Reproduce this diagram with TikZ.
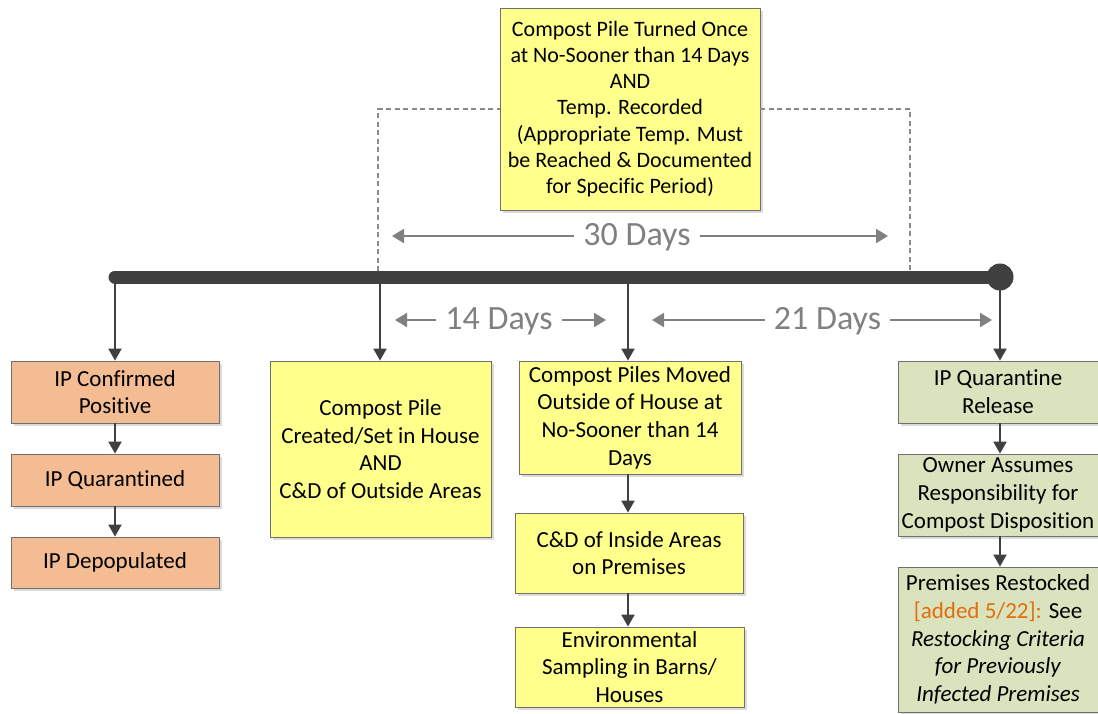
\documentclass[tikz,border=0pt]{standalone}
\usepackage{fontspec}
\setmainfont{Carlito}[Ligatures={NoCommon,NoDiscretionary,NoRare}]
\usetikzlibrary{arrows.meta,shadows}
\definecolor{barc}{HTML}{404040}
\definecolor{dimc}{HTML}{808080}
\definecolor{dashc}{HTML}{8A8A8A}
\definecolor{boxline}{HTML}{707070}
\definecolor{orangef}{HTML}{F4BC92}
\definecolor{yellowf}{HTML}{FFFF8C}
\definecolor{greenf}{HTML}{D9E4BF}
\definecolor{addc}{HTML}{E46C0A}
\begin{document}
\begin{tikzpicture}[x=1pt,y=-1pt,
  box/.style={draw=boxline, line width=0.8pt, align=center, inner sep=0pt,
    font=\fontsize{23}{27.7}\selectfont,
    drop shadow={shadow xshift=3pt,shadow yshift=-3pt,fill=black!14,opacity=1}},
  flow/.style={draw=barc, line width=2pt, -{Triangle[length=12pt,width=13pt]}},
  dimarrow/.style={draw=dimc, line width=2pt, -{Triangle[length=12pt,width=14pt]}},
  dimtext/.style={text=dimc, font=\fontsize{34}{40}\selectfont, inner xsep=9pt, inner ysep=0pt},
  dashline/.style={draw=dashc, line width=2.5pt, dash pattern=on 5pt off 3.5pt}]
\useasboundingbox (0,0) rectangle (1098,713);
\clip (0,0) rectangle (1098,713);

% timeline coordinates
\coordinate (t1) at (115,277);
\coordinate (t2) at (380,277);
\coordinate (t3) at (628,277);
\coordinate (t4) at (1000,277);
\coordinate (dl) at (378,271);
\coordinate (dr) at (910,271);

% top box
\node[box, fill=yellowf, minimum width=260pt, minimum height=202pt,
  font=\fontsize{22}{26.2}\selectfont] (top) at (630,109)
  {Compost Pile Turned Once\\at No-Sooner than 14 Days\\AND\\Temp. Recorded\\(Appropriate Temp. Must\\be Reached \& Documented\\for Specific Period)};

% dashed bracket
\draw[dashline] (dl) |- (top.west);
\draw[dashline] (top.east) -| (dr);

% main bar
\draw[barc, line width=13pt, line cap=round] (t1) -- (t4);
\fill[barc] (t4) circle (13.5pt);

% boxes
\node[box, fill=orangef, minimum width=208pt, minimum height=62pt] (ipc) at (115,392) {IP Confirmed\\Positive};
\node[box, fill=orangef, minimum width=208pt, minimum height=52pt] (ipq) at (115,480) {IP Quarantined};
\node[box, fill=orangef, minimum width=208pt, minimum height=51pt] (ipd) at (115,562.5) {IP Depopulated};

\node[box, fill=yellowf, minimum width=221pt, minimum height=176pt] (cpc) at (380.5,449)
  {Compost Pile\\Created/Set in House\\AND\\C\&D of Outside Areas};

\node[box, fill=yellowf, minimum width=222pt, minimum height=113pt] (cpm) at (630,417.5)
  {Compost Piles Moved\\Outside of House at\\No-Sooner than 14\\Days};
\node[box, fill=yellowf, minimum width=228pt, minimum height=80pt] (cdi) at (629,553)
  {C\&D of Inside Areas\\on Premises};
\node[box, fill=yellowf, minimum width=229pt, minimum height=80pt] (env) at (629.5,667)
  {Environmental\\Sampling in Barns/\\Houses};

\node[box, fill=greenf, minimum width=200pt, minimum height=62pt] (iqr) at (998,392)
  {IP Quarantine\\Release};
\node[box, fill=greenf, minimum width=200pt, minimum height=82pt] (own) at (998,495)
  {Owner Assumes\\Responsibility for\\Compost Disposition};
\node[box, fill=greenf, minimum width=200pt, minimum height=145pt] (res) at (998,639.5)
  {Premises Restocked\\{\color{addc}[added 5/22]:} See\\\textit{Restocking Criteria}\\\textit{for Previously}\\\textit{Infected Premises}};

% arrows from timeline
\draw[flow] (t1) -- (t1 |- ipc.north);
\draw[flow] (t2) -- (t2 |- cpc.north);
\draw[flow] (t3) -- (t3 |- cpm.north);
\draw[flow] (t4) -- (t4 |- iqr.north);

% arrows within columns
\draw[flow] (ipc.south) -- (ipq.north);
\draw[flow] (ipq.south) -- (ipd.north);
\draw[flow] (t3 |- cpm.south) -- (t3 |- cdi.north);
\draw[flow] (t3 |- cdi.south) -- (t3 |- env.north);
\draw[flow] (t4 |- iqr.south) -- (t4 |- own.north);
\draw[flow] (t4 |- own.south) -- (t4 |- res.north);

% dimension labels
\node[dimtext] (d30) at (637,237) {30 Days};
\coordinate (d30l) at (392,236);
\coordinate (d30r) at (888,236);
\draw[dimarrow] (d30.west |- d30l) -- (d30l);
\draw[dimarrow] (d30.east |- d30r) -- (d30r);

\node[dimtext] (d14) at (499,321) {14 Days};
\coordinate (d14l) at (395,320);
\coordinate (d14r) at (606,320);
\draw[dimarrow] (d14.west |- d14l) -- (d14l);
\draw[dimarrow] (d14.east |- d14r) -- (d14r);

\node[dimtext] (d21) at (827.5,321) {21 Days};
\coordinate (d21l) at (652,320);
\coordinate (d21r) at (992,320);
\draw[dimarrow] (d21.west |- d21l) -- (d21l);
\draw[dimarrow] (d21.east |- d21r) -- (d21r);
\end{tikzpicture}
\end{document}
